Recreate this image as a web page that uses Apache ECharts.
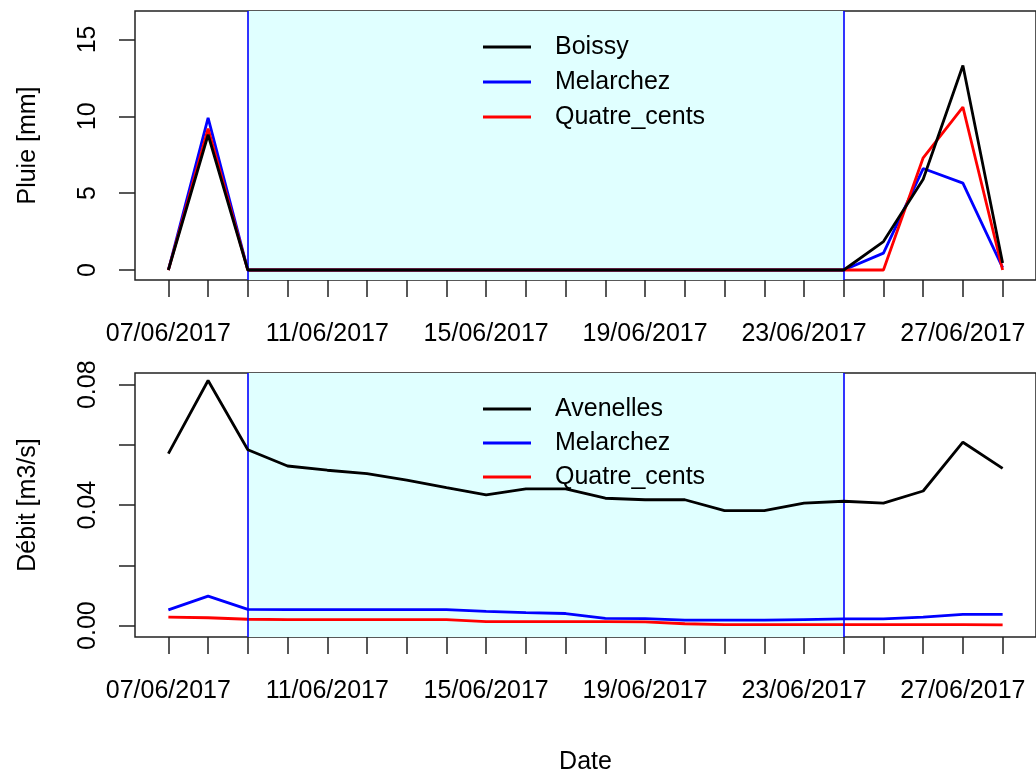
<!DOCTYPE html>
<html>
<head>
<meta charset="utf-8">
<script src="https://cdn.jsdelivr.net/npm/echarts@6/dist/echarts.min.js"></script>
<style>
html,body{margin:0;padding:0;background:#fff;}
#c{width:1036px;height:776px;}
</style>
</head>
<body>
<div id="c"></div>
<script>
// ---- data ----
var dates = ['07/06/2017','08/06/2017','09/06/2017','10/06/2017','11/06/2017','12/06/2017','13/06/2017',
  '14/06/2017','15/06/2017','16/06/2017','17/06/2017','18/06/2017','19/06/2017','20/06/2017','21/06/2017',
  '22/06/2017','23/06/2017','24/06/2017','25/06/2017','26/06/2017','27/06/2017','28/06/2017'];
var xLabelIdx = [0, 4, 8, 12, 16, 20];
var shadeStart = 2;   // 09/06/2017
var shadeEnd = 17;    // 24/06/2017

var pluieBoissy    = [0, 8.8, 0,0,0,0,0,0,0,0,0,0,0,0,0,0,0,0, 1.85, 5.9, 13.3, 0.45];
var pluieMelarchez = [0, 9.9, 0,0,0,0,0,0,0,0,0,0,0,0,0,0,0,0, 1.1, 6.6, 5.65, 0.15];
var pluieQuatre    = [0, 9.2, 0,0,0,0,0,0,0,0,0,0,0,0,0,0,0,0, 0, 7.3, 10.6, 0];

var debitAvenelles = [0.0571, 0.0814, 0.0584, 0.0530, 0.0516, 0.0505, 0.0483, 0.0458, 0.0434, 0.0454, 0.0454,
  0.0423, 0.0418, 0.0418, 0.0382, 0.0382, 0.0407, 0.0413, 0.0407, 0.0447, 0.0609, 0.0522];
var debitMelarchez = [0.0052, 0.0098, 0.0054, 0.0053, 0.0053, 0.0053, 0.0053, 0.0053, 0.0047, 0.0043, 0.0040,
  0.0024, 0.0023, 0.0018, 0.0018, 0.0018, 0.0020, 0.0022, 0.0022, 0.0028, 0.0037, 0.0037];
var debitQuatre    = [0.0028, 0.0026, 0.0021, 0.0020, 0.0020, 0.0020, 0.0020, 0.0020, 0.0013, 0.0013, 0.0013,
  0.0013, 0.0012, 0.0006, 0.0003, 0.0003, 0.0003, 0.0003, 0.0003, 0.0003, 0.0003, 0.0002];

var pluieTicks = [0, 5, 10, 15];
var debitTicks = [0, 0.02, 0.04, 0.06, 0.08];
var debitLabels = [0, 0.04, 0.08];

// ---- helpers ----
function pairs(arr){ return arr.map(function(v,i){ return [i, v]; }); }
var dayIdx = dates.map(function(d,i){ return i; });
var FONT = 'Liberation Sans, Arial, sans-serif';
var FS = 25;

function xAxisCfg(gridIndex, withName){
  var a = {
    type:'value', gridIndex:gridIndex, min:-0.84, max:21.84,
    axisLine:{show:false, onZero:false},
    splitLine:{show:false},
    axisTick:{show:true, inside:false, length:17, customValues:dayIdx, lineStyle:{color:'#222', width:1.5}},
    axisLabel:{show:true, customValues:xLabelIdx, margin:42, fontSize:FS, fontFamily:FONT, color:'#000',
      formatter:function(v){ return dates[Math.round(v)]; }}
  };
  if (withName){
    a.name = 'Date'; a.nameLocation = 'middle'; a.nameGap = 113;
    a.nameTextStyle = {fontSize:FS, fontFamily:FONT, color:'#000'};
  }
  return a;
}
function yAxisCfg(gridIndex, name, min, max, ticks, labels, fmt){
  return {
    type:'value', gridIndex:gridIndex, min:min, max:max,
    name:name, nameLocation:'middle', nameGap:94,
    nameTextStyle:{fontSize:FS, fontFamily:FONT, color:'#000'},
    axisLine:{show:false, onZero:false}, splitLine:{show:false},
    axisTick:{show:true, length:16, customValues:ticks, lineStyle:{color:'#222', width:1.5}},
    axisLabel:{show:true, customValues:labels, rotate:90, margin:34, fontSize:FS, fontFamily:FONT, color:'#000',
      formatter:fmt}
  };
}
function lineSeries(name, data, color, xi, yi, z){
  return {name:name, type:'line', xAxisIndex:xi, yAxisIndex:yi, data:pairs(data),
    showSymbol:false, symbol:'none', z:z, lineStyle:{color:color, width:2.8}, itemStyle:{color:color},
    animation:false};
}
function shadeSeries(xi, yi){
  return {type:'line', xAxisIndex:xi, yAxisIndex:yi, data:[], silent:true, z:1,
    markArea:{silent:true, itemStyle:{color:'#E0FFFF'}, data:[[{xAxis:shadeStart},{xAxis:shadeEnd}]]},
    markLine:{silent:true, symbol:'none', label:{show:false}, lineStyle:{color:'#0000FF', width:1.6, type:'solid', opacity:1},
      emphasis:{disabled:true}, data:[{xAxis:shadeStart},{xAxis:shadeEnd}]},
    animation:false};
}
function legendCfg(names, top, gap){
  return {
    orient:'vertical', left:478, top:top, itemGap:gap,
    icon:'rect', itemWidth:48, itemHeight:3,
    data:names.map(function(n){ return {name:n}; }),
    textStyle:{fontSize:FS, fontFamily:FONT, color:'#000', lineHeight:26, padding:[0,0,0,19]},
    selectedMode:false
  };
}

var chart = echarts.init(document.getElementById('c'), null, {renderer:'canvas'});
chart.setOption({
  animation:false,
  backgroundColor:'#fff',
  grid:[
    {left:135, top:11, width:902, height:269, show:true, borderColor:'#222', borderWidth:1.5, backgroundColor:'transparent'},
    {left:135, top:373, width:902, height:268, show:true, borderColor:'#222', borderWidth:1.5, backgroundColor:'transparent'}
  ],
  legend:[
    legendCfg(['Boissy','Melarchez','Quatre_cents'], 29, 9),
    legendCfg(['Avenelles','Melarchez','Quatre_cents'], 391, 8)
  ],
  xAxis:[ xAxisCfg(0, false), xAxisCfg(1, true) ],
  yAxis:[
    yAxisCfg(0, 'Pluie [mm]', -0.65, 16.85, pluieTicks, pluieTicks, function(v){ return String(v); }),
    yAxisCfg(1, 'Débit [m3/s]', -0.0038, 0.0839, debitTicks, debitLabels, function(v){ return v.toFixed(2); })
  ],
  series:[
    shadeSeries(0,0),
    shadeSeries(1,1),
    lineSeries('Melarchez', pluieMelarchez, '#0000FF', 0, 0, 3),
    lineSeries('Quatre_cents', pluieQuatre, '#FF0000', 0, 0, 4),
    lineSeries('Boissy', pluieBoissy, '#000000', 0, 0, 5),
    lineSeries('Melarchez', debitMelarchez, '#0000FF', 1, 1, 3),
    lineSeries('Quatre_cents', debitQuatre, '#FF0000', 1, 1, 4),
    lineSeries('Avenelles', debitAvenelles, '#000000', 1, 1, 5)
  ]
});
</script>
</body>
</html>
